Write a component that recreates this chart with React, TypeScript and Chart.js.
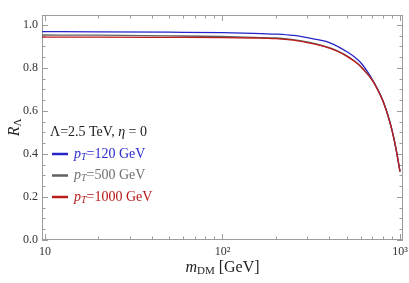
import React, { useEffect, useRef } from 'react';
import { Chart, registerables } from 'chart.js';
Chart.register(...registerables);

// dark-matter mass (GeV)
const masses = [9.6, 20, 50, 100, 150, 200, 250, 300, 350, 400, 450, 500, 550, 600, 650, 700, 750, 800, 850, 900, 950, 1000];
// R_Lambda for p_T = 120 GeV
const rPt120 = [0.969, 0.968, 0.966, 0.964, 0.961, 0.957, 0.951, 0.941, 0.930, 0.918, 0.898, 0.876, 0.853, 0.825, 0.787, 0.745, 0.700, 0.650, 0.588, 0.514, 0.425, 0.318];
// R_Lambda for p_T = 500 GeV
const rPt500 = [0.953, 0.952, 0.949, 0.946, 0.942, 0.939, 0.932, 0.921, 0.908, 0.894, 0.877, 0.857, 0.834, 0.808, 0.776, 0.742, 0.698, 0.648, 0.586, 0.513, 0.424, 0.318];
// R_Lambda for p_T = 1000 GeV
const rPt1000 = [0.943, 0.943, 0.942, 0.941, 0.939, 0.936, 0.929, 0.918, 0.906, 0.892, 0.875, 0.855, 0.832, 0.807, 0.775, 0.741, 0.697, 0.647, 0.585, 0.512, 0.423, 0.318];

const ptValues = ['120', '500', '1000'];
const lineColors = ['#2424c8', '#606060', '#bb1c1c'];
const textColors = ['#2a2acc', '#707070', '#b41818'];
const legendTitle = ['Λ=2.5 TeV, ', 'η', ' = 0'];

const yTicks = [0, 0.2, 0.4, 0.6, 0.8, 1.0];
const xTicks = [10, 100, 1000];
const xTickLabels = ['10', '10²', '10³'];

const SERIF = '"Liberation Serif", "Times New Roman", serif';

type Part = { t: string; f: string; c: string; dy?: number };

function drawParts(ctx: CanvasRenderingContext2D, x: number, y: number, parts: Part[], align: 'left' | 'center' = 'left') {
  let w = 0;
  for (const p of parts) { ctx.font = p.f; w += ctx.measureText(p.t).width; }
  let cx = align === 'center' ? x - w / 2 : x;
  ctx.textAlign = 'left';
  ctx.textBaseline = 'middle';
  for (const p of parts) {
    ctx.font = p.f;
    ctx.fillStyle = p.c;
    ctx.fillText(p.t, cx, y + (p.dy || 0));
    cx += ctx.measureText(p.t).width;
  }
}

const framePlugin = {
  id: 'frameTicks',
  beforeDatasetsDraw(chart: any) {
    const { ctx, chartArea: a, scales } = chart;
    const x = scales.x, y = scales.y;
    ctx.save();
    ctx.strokeStyle = '#9c9c9c';
    ctx.lineWidth = 1;
    ctx.strokeRect(a.left + 0.5, a.top + 0.5, a.right - a.left - 1, a.bottom - a.top - 1);
    ctx.beginPath();
    for (let i = 0; i <= 20; i++) {
      const v = i * 0.05;
      const major = i % 4 === 0;
      const len = major ? 6 : 3.5;
      const py = Math.round(y.getPixelForValue(v)) + 0.5;
      ctx.moveTo(a.left, py); ctx.lineTo(a.left + len, py);
      ctx.moveTo(a.right, py); ctx.lineTo(a.right - len, py);
    }
    const xs: [number, boolean][] = [];
    for (const d of [10, 100]) for (let k = 1; k <= 9; k++) xs.push([d * k, k === 1]);
    xs.push([1000, true]);
    for (const [v, major] of xs) {
      const len = major ? 6 : 3.5;
      const px = Math.round(x.getPixelForValue(v)) + 0.5;
      ctx.moveTo(px, a.bottom); ctx.lineTo(px, a.bottom - len);
      ctx.moveTo(px, a.top); ctx.lineTo(px, a.top + len);
    }
    ctx.stroke();
    ctx.restore();
  },
  afterDraw(chart: any) {
    const { ctx, chartArea: a } = chart;
    ctx.save();
    const lab = '#222';
    drawParts(ctx, (a.left + a.right) / 2, 268, [
      { t: 'm', f: `italic 16px ${SERIF}`, c: lab },
      { t: 'DM', f: `11px ${SERIF}`, c: lab, dy: 3 },
      { t: ' [GeV]', f: `16px ${SERIF}`, c: lab },
    ], 'center');
    ctx.save();
    ctx.translate(15, (a.top + a.bottom) / 2);
    ctx.rotate(-Math.PI / 2);
    drawParts(ctx, 0, 0, [
      { t: 'R', f: `italic 16px ${SERIF}`, c: lab },
      { t: 'Λ', f: `11px ${SERIF}`, c: lab, dy: 3 },
    ], 'center');
    ctx.restore();
    drawParts(ctx, 50, 132, [
      { t: legendTitle[0], f: `14px ${SERIF}`, c: lab },
      { t: legendTitle[1], f: `italic 14px ${SERIF}`, c: lab },
      { t: legendTitle[2], f: `14px ${SERIF}`, c: lab },
    ]);
    const ds = chart.data.datasets;
    for (let i = 0; i < ds.length; i++) {
      const yy = 154 + i * 21.5;
      ctx.strokeStyle = ds[i].borderColor;
      ctx.lineWidth = 2.5;
      ctx.beginPath();
      ctx.moveTo(52, yy); ctx.lineTo(68, yy);
      ctx.stroke();
      drawParts(ctx, 74, yy, [
        { t: 'p', f: `italic 14px ${SERIF}`, c: textColors[i] },
        { t: 'T', f: `italic 10px ${SERIF}`, c: textColors[i], dy: 3 },
        { t: '=' + ptValues[i] + ' GeV', f: `14px ${SERIF}`, c: textColors[i] },
      ]);
    }
    ctx.restore();
  },
};

export default function App() {
  const ref = useRef<HTMLCanvasElement | null>(null);
  useEffect(() => {
    document.body.style.margin = '0';
    const series = [rPt120, rPt500, rPt1000];
    const chart = new Chart(ref.current as HTMLCanvasElement, {
      type: 'line',
      data: {
        datasets: series.map((s, i) => ({
          label: 'pT=' + ptValues[i] + ' GeV',
          data: masses.map((m, j) => ({ x: m, y: s[j] })),
          borderColor: lineColors[i],
          backgroundColor: lineColors[i],
          borderWidth: 1.3,
          pointRadius: 0,
          fill: false,
          cubicInterpolationMode: 'monotone' as const,
          order: 3 - i,
        })),
      },
      options: {
        responsive: false,
        animation: false,
        devicePixelRatio: 1,
        layout: { padding: { top: 15, right: 6, left: 0, bottom: 0 } },
        plugins: { legend: { display: false }, tooltip: { enabled: false } },
        scales: {
          x: {
            type: 'logarithmic',
            min: 9.62,
            max: 1040,
            grid: { display: false, drawTicks: false },
            border: { display: false },
            afterBuildTicks: (s: any) => { s.ticks = xTicks.map((v) => ({ value: v })); },
            afterFit: (s: any) => { s.height = 43; s.paddingLeft = 0; s.paddingRight = 0; },
            ticks: {
              autoSkip: false,
              maxRotation: 0,
              padding: 5,
              color: '#333',
              font: { family: SERIF, size: 12 },
              callback: (_v: any, i: number) => xTickLabels[i],
            },
          },
          y: {
            type: 'linear',
            min: 0,
            max: 1.046,
            grid: { display: false, drawTicks: false },
            border: { display: false },
            afterBuildTicks: (s: any) => { s.ticks = yTicks.map((v) => ({ value: v })); },
            afterFit: (s: any) => { s.width = 42; s.paddingTop = 0; s.paddingBottom = 0; },
            ticks: {
              padding: 4,
              color: '#333',
              font: { family: SERIF, size: 12 },
              callback: (v: any) => Number(v).toFixed(1),
            },
          },
        },
      },
      plugins: [framePlugin],
    } as any);
    return () => chart.destroy();
  }, []);
  return (
    <div style={{ width: 409, height: 283 }}>
      <canvas ref={ref} width={409} height={283} style={{ display: 'block' }} />
    </div>
  );
}
